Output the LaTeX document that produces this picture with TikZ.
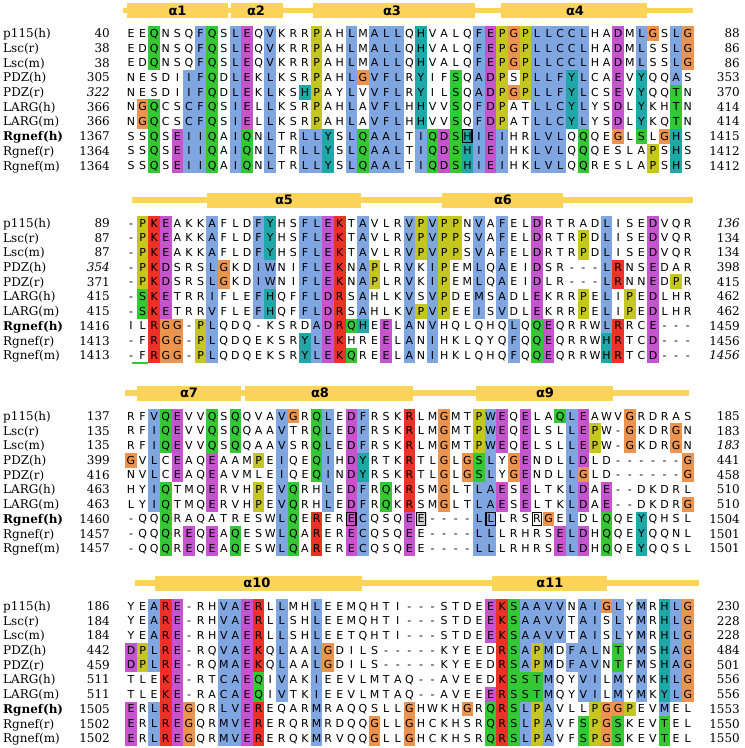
\documentclass[tikz,border=0pt]{standalone}
\usepackage{fontspec}
\setmainfont{DejaVu Serif}
\newfontfamily\seqfont{DejaVu Sans}
\usepackage{xstring}

\definecolor{helixgold}{RGB}{253,212,90}
\definecolor{colb}{RGB}{128,166,226}
\definecolor{colg}{RGB}{52,200,52}
\definecolor{colm}{RGB}{198,84,206}
\definecolor{colr}{RGB}{236,50,38}
\definecolor{colo}{RGB}{236,148,78}
\definecolor{coly}{RGB}{198,198,32}
\definecolor{colc}{RGB}{30,168,168}
\colorlet{colH}{colc}
\colorlet{colM}{colm}
\colorlet{colB}{colb}
\definecolor{colG}{RGB}{208,208,208}
\definecolor{colW}{RGB}{255,255,255}

\tikzset{
  residue/.style={font=\seqfont\fontsize{11}{13}\selectfont, anchor=base, inner sep=0pt},
  seqname/.style={font=\fontsize{12}{14}\selectfont, anchor=base west, inner sep=0pt},
  seqnum/.style={font=\fontsize{12}{14}\selectfont, anchor=base east, inner sep=0pt},
  helixbar/.style={fill=helixgold},
  helixlink/.style={draw=helixgold, line width=5.5pt},
  helixlab/.style={font=\seqfont\bfseries\fontsize{13}{15}\selectfont, inner sep=0pt},
  boxmark/.style={draw=black, line width=1.3pt}
}

% one aligned row: id, y, name, first no., residues, colour codes, last no.
\newcommand{\seqrow}[7]{%
  \node[seqname] (#1name) at (3,#2+4.4) {#3};
  \node[seqnum] (#1from) at (110,#2+4.4) {#4};
  \node[seqnum] (#1to) at (740,#2+4.4) {#7};
  \StrDel{#5}{|}[\resstr]%
  \StrDel{#6}{|}[\codestr]%
  \foreach \i in {1,...,49}{%
    \StrChar{\codestr}{\i}[\cellcode]%
    \IfStrEq{\cellcode}{.}{}{%
      \fill[fill=col\cellcode] ({125.15+(\i-1)*11.6},#2-7.4) rectangle ++(11.7,14.8);
      \IfSubStr{HMGBW}{\cellcode}{\draw[boxmark] ({126.4+(\i-1)*11.6},#2-6.4) rectangle ++(9.2,12.8);}{}%
    }%
    \StrChar{\resstr}{\i}[\rescode]%
    \node[residue] (#1c\i) at ({131+(\i-1)*11.6},#2+4.0) {\rescode};
  }%
}

% helix bar: id, x from, x to, y, label x, label
\newcommand{\helix}[6]{%
  \fill[helixbar] (#2,#4-7.5) rectangle (#3,#4+7.5);
  \node[helixlab] (#1) at (#5,#4) {#6};
}

\begin{document}
\begin{tikzpicture}[x=1pt,y=-1pt]
\useasboundingbox (0,0) rectangle (745,748);
\fill[white] (0,0) rectangle (745,748);

% block 1
\draw[helixlink] (123,10.5) -- (693,10.5);
\helix{h1}{127}{228}{10.5}{177.5}{α1}
\helix{h2}{231}{283}{10.5}{256}{α2}
\helix{h3}{313}{475}{10.5}{392}{α3}
\helix{h4}{501}{647}{10.5}{575}{α4}
\seqrow{a1}{33.3}{p115(h)}{40}{EEQNSQFQSL|EQVKRRPAHL|MALLQHVALQ|FEPGPLLCCL|HADMLGSLG}{..g...bg.b|m.b...y..b|.bbb.c....|bmyoybbbbb|..m.bo.bo}{88}
\seqrow{a2}{48.0}{Lsc(r)}{38}{EDQNSQFQSL|EQVKRRPAHL|MALLQHVALQ|FEPGPLLCCL|HADMLSSLG}{..g...bg.b|m.b...y..b|.bbb.c....|bmyoybbbbb|..m.b..bo}{86}
\seqrow{a3}{62.7}{Lsc(m)}{38}{EDQNSQFQSL|EQVKRRPAHL|MALLQHVALQ|FEPGPLLCCL|HADMLSSLG}{..g...bg.b|m.b...y..b|.bbb.c....|bmyoybbbbb|..m.b..bo}{86}
\seqrow{a4}{77.4}{PDZ(h)}{305}{NESDIIFQDL|EKLKSRPAHL|GVFLRYIFSQ|ADPSPLLFYL|CAEVYQQAS}{.....bbg.b|m.b...y..b|obbb.c..g.|bmy.ybbbcb|..m.c..b.}{353}
\seqrow{a5}{92.1}{PDZ(r)}{\textit{322}}{NESDIIFQDL|EKLKSHPAYL|VVFLRYILSQ|ADPGPLLFYL|CSEVYQQTN}{.....bbg.b|m.b..cy..b|.bbb.c..g.|bmyoybbbcb|..m.c..g.}{370}
\seqrow{a6}{106.8}{LARG(h)}{366}{NGQCSCFQSI|ELLKSRPAHL|AVFLHHVVSQ|FDPATLLCYL|YSDLYKHTN}{.og..bbg.b|m.b...y..b|.bbb.c..g.|bmy..bbbcb|..m.c..g.}{414}
\seqrow{a7}{121.5}{LARG(m)}{366}{NGQCSCFQSI|ELLKSRPAHL|AVFLHHVVSQ|FDPATLLCYL|YSDLYKQTN}{.og..bbg.b|m.b...y..b|.bbb.c..g.|bmy..bbbcb|..m.c..g.}{414}
\seqrow{a8}{136.2}{\textbf{Rgnef(h)}}{1367}{SSQSEIIQAI|QNLTRLLYSL|QAALTIQDSH|IEIHRLVLQQ|QEGLSLGHS}{..g.mbbg.b|g.b..bbc.b|gbbb.bgmgH|bmb..bbb.g|..o.g.oc.}{1415}
\seqrow{a9}{150.9}{Rgnef(r)}{1364}{SSQSEIIQAI|QNLTRLLYSL|QAALTIQDSH|IEIHKLVLQQ|QESLAPSHS}{..g.mbbg.b|g.b..bbc.b|gbbb.bgmgc|bmb..bbb.g|.....y.c.}{1412}
\seqrow{a10}{165.6}{Rgnef(m)}{1364}{SSQSEIIQAI|QNLTRLLYSL|QAALTIQDSH|IEIHKLVLQQ|RESLAPSHS}{..g.mbbg.b|g.b..bbc.b|gbbb.bgmgc|bmb..bbb.g|.....y.c.}{1412}

% block 2
\draw[helixlink] (132,200.2) -- (693,200.2);
\helix{h5}{207}{361}{200.2}{284}{α5}
\helix{h6}{442}{563}{200.2}{503}{α6}
\seqrow{b1}{223.0}{p115(h)}{89}{-PKEAKKAFL|DFYHSFLEKT|AVLRVPVPPN|VAFELDRTRA|DLISEDVQR}{.yrm...b..|.bc..bbmr.|b...bybyy.|b.b..m....|.b...m...}{\textit{136}}
\seqrow{b2}{237.7}{Lsc(r)}{87}{-PKEAKKAFL|DFYHSFLEKT|AVLRVPVPPS|VAFELDRTRP|DLISEDVQR}{.yrm...b..|.bc..bbmr.|b...bybyy.|b.b..m...y|.b...m...}{134}
\seqrow{b3}{252.4}{Lsc(m)}{87}{-PKEAKKAFL|DFYHSFLEKT|AVLRVPVPPS|VAFELDRTRP|DLISEDVQR}{.yrm...b..|.bc..bbmr.|b...bybyy.|b.b..m...y|.b...m...}{134}
\seqrow{b4}{267.1}{PDZ(h)}{\textit{354}}{-PKDSRSLGK|DIWNIFLEKN|APLRVKIPEM|LQAEIDSR--|-LRNSEDAR}{.yrm...bo.|.bb..bbmr.|by..b.by..|b.b..m....|.br..m...}{398}
\seqrow{b5}{281.8}{PDZ(r)}{371}{-PKDSRSLGK|DIWNIFLEKN|APLRVKIPEM|LQAEIDLR--|-LRNNEDPR}{.yrm...bo.|.bb..bbmr.|by..b.by..|b.b..m....|.br..m.y.}{415}
\seqrow{b6}{296.5}{LARG(h)}{415}{-SKETRRIFL|EFHQFFLDRS|AHLKVSVPDE|MSADLEKRRP|ELIPEDLHR}{.grm...b..|.bc..bbmr.|b...b.by..|b.b..m...y|.b.y.m...}{462}
\seqrow{b7}{311.2}{LARG(m)}{415}{-SKETRRVFL|EFHQFFLDRS|AHLKVPVPEE|ISVDLEKRRP|ELIPEDLHR}{.grm...b..|.bc..bbmr.|b...byby..|b.b..m...y|.b.y.m...}{462}
\seqrow{b8}{325.9}{\textbf{Rgnef(h)}}{1416}{ILRGG-PLQD|Q-KSRDADRQ|HEELANVHQL|QHQLQQEQRR|WLRRCE---}{..roo.yb..|......bmrg|c.m.b.b...|...b.gm...|.br..m...}{1459}
\seqrow{b9}{340.6}{Rgnef(r)}{1413}{-FRGG-PLQD|QEKSRYLEKH|REELANIHKL|QYQFQQEQRR|WHRTCD---}{..roo.yb..|.....cbmr.|..m.b.b...|...b.gm...|.cr..m...}{1456}
\seqrow{b10}{355.3}{Rgnef(m)}{1413}{-FRGG-PLQD|QEKSRYLEKQ|REELANIHKL|QHQFQQEQRR|WHRTCD---}{..roo.yb..|.....cbmrg|..m.b.b...|...b.gm...|.cr..m...}{\textit{1456}}
\draw[colg, line width=1.2pt] (132,363) -- (148,363);

% block 3
\draw[helixlink] (125,393.2) -- (689,393.2);
\helix{h7}{137}{241}{393.2}{189}{α7}
\helix{h8}{245}{413}{393.2}{320}{α8}
\helix{h9}{476}{613}{393.2}{545}{α9}
\seqrow{c1}{416.0}{p115(h)}{137}{RFVQEVVQSQ|QVAVGRQLED|FRSKRLMGMT|PWEQELAQLE|AWVGRDRAS}{..bgm..g.g|...bo.gb.m|b...r..o..|ybm.m..gbm|...o.....}{185}
\seqrow{c2}{430.7}{Lsc(r)}{135}{RFIQEVVQSQ|QAAVTRQLED|FRSKRLMGMT|PWEQELSLLE|PW-GKDRGN}{..bgm..g.g|...b..gb.m|b...r..o..|ybm.m...bm|y..o...o.}{183}
\seqrow{c3}{445.4}{Lsc(m)}{135}{RFIQEVVQSQ|QAAVSRQLED|FRSKRLMGMT|PWEQELSLLE|PW-GKDRGN}{..bgm..g.g|...b..gb.m|b...r..o..|ybm.m...bm|y..o...o.}{\textit{183}}
\seqrow{c4}{460.1}{PDZ(h)}{399}{GVLCEAQEAA|MPEIQEQIHD|YRTKRTLGLG|SLYGENDLLD|LD------G}{o.b.m..m..|.y.b..gb.m|c...r..o.o|gb.om...bm|........o}{441}
\seqrow{c5}{474.8}{PDZ(r)}{416}{NVLCEAQEAV|MLEIQEQIND|YRSKRTLGLG|SLYGENDLLG|LD------G}{..b.m..m..|...b..gb.m|c...r..o.o|gb.om...bo|........o}{458}
\seqrow{c6}{489.5}{LARG(h)}{463}{HYIQTMQERV|HPEVQRHLED|FRQKRSMGLT|LAESELTKLD|AE--DKDRL}{..bg...m..|.y.bg..b.m|b.g.r..o..|bbm.m...bm|.m.......}{510}
\seqrow{c7}{504.2}{LARG(m)}{463}{LYIQTMQERV|HPEVQRHLED|FRQKRSMGLT|LAESELTKLD|AE--DKDRG}{..bg...m..|.y.bg..b.m|b.g.r..o..|bbm.m...bm|.m......o}{510}
\seqrow{c8}{518.9}{\textbf{Rgnef(h)}}{1460}{-QQQRAQATR|ESWLQERERE|CQSQEE----|LLLRSRGELD|LQQEYQHSL}{...g......|...bg.r..M|b...mG....|bB...Wo.b.|.g..c....}{1504}
\seqrow{c9}{533.6}{Rgnef(r)}{1457}{-QQQREQEAQ|ESWLQARERE|CQSQEE----|LLLRHRSELD|HQQEYQQNL}{...g.m.m.g|...bg.r..m|b...m.....|bb.....mbm|.g..c....}{1501}
\seqrow{c10}{548.3}{Rgnef(m)}{1457}{-QQQREQEAQ|ESWLQARERE|CQSQEE----|LLLRHRSELD|HQQEYQQSL}{...g.m.m.g|...bg.r..m|b...m.....|bb.....mbm|.g..c....}{1501}

% block 4
\draw[helixlink] (135,583.2) -- (699,583.2);
\helix{h10}{155}{362}{583.2}{257}{α10}
\helix{h11}{492}{607}{583.2}{550}{α11}
\seqrow{d1}{606.0}{p115(h)}{186}{YEARE-RHVA|ERLLMHLEEM|QHTI---STD|EEKSAAVVNA|IGLYMRHLG}{..brm...bb|mr.b..b...|..........|.mrgbbbb.b|bob.b.cbo}{230}
\seqrow{d2}{620.7}{Lsc(r)}{184}{YEARE-RHVA|ERLLSHLEEM|QHTI---STD|EEKSAAVVTA|ISLYMRHLG}{..brm...bb|mr.b..b...|..........|.mrgbbbb.b|b.b.b.cbo}{228}
\seqrow{d3}{635.4}{Lsc(m)}{184}{YEARE-RHVA|ERLLSHLEET|QHTI---STD|EEKSAAVVTA|ISLYMRHLG}{..brm...bb|mr.b..b...|..........|.mrgbbbb.b|b.b.b.cbo}{228}
\seqrow{d4}{650.1}{PDZ(h)}{442}{DPLRE-RQVA|EKQLAALGDI|LS-----KYE|EDRSAPMDFA|LNTYMSHAG}{mybrm...bb|mr.b..bo..|..........|..rgbyb.bb|b.g.b.cbo}{484}
\seqrow{d5}{664.8}{PDZ(r)}{459}{DPLRE-RQMA|EKQLAALGDI|LS-----KYE|EDRSAPMDFA|VNTFMSHAG}{mybrm...bb|mr.b..bo..|..........|..rgbyb.bb|b.g.b.cbo}{501}
\seqrow{d6}{679.5}{LARG(h)}{511}{TLEKE-RTCA|EQIVAKIEEV|LMTAQ--AVE|EDKSSTMQYV|ILMYMKHLG}{...rm...bb|mg.b..b...|..........|..rgggb..b|b.b.b.cbo}{556}
\seqrow{d7}{694.2}{LARG(m)}{511}{TLEKE-RACA|EQIVTKIEEV|LMTAQ--AVE|EERSSTMQYV|ILMYMKYLG}{...rm...bb|mg.b..b...|..........|.mrgggb..b|b.b.b.cbo}{556}
\seqrow{d8}{708.9}{\textbf{Rgnef(h)}}{1505}{ERLREGQRLV|EREQARMRAQ|QSLLGHWKHG|RQRSLPAVLL|PGGPEVMEL}{m.brmo..bb|mr....b...|....o....o|.grgbyb...|yooy..b..}{1553}
\seqrow{d9}{723.6}{Rgnef(r)}{1502}{ERLREGQRMV|ERERQRMRDQ|QGLLGHCKHS|RQRSLPAVFS|PGSKEVTEL}{m.brmo..bb|mr....b...|.o..o.....|.grgbyb..g|yog...g..}{1550}
\seqrow{d10}{738.3}{Rgnef(m)}{1502}{ERLREGQRMV|ERERQKMRVQ|QGLLGHCKHS|RQRSLPAVFS|PGSKEVTEL}{m.brmo..bb|mr....b...|.o..o.....|.grgbyb..g|yog...g..}{1550}
\end{tikzpicture}
\end{document}
